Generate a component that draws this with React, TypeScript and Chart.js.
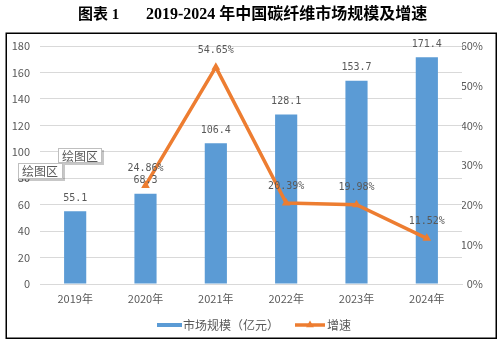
import React, { useEffect, useRef } from 'react';
import { Chart, registerables } from 'chart.js';

Chart.register(...registerables);

const categories = ['2019年', '2020年', '2021年', '2022年', '2023年', '2024年'];
const marketSize = [55.1, 68.3, 106.4, 128.1, 153.7, 171.4];
const growthRate: (number | null)[] = [null, 24.86, 54.65, 20.39, 19.98, 11.52];
const seriesNames = ['市场规模（亿元）', '增速'];
const titleParts = ['图表 1', '2019-2024 年中国碳纤维市场规模及增速'];
const popupText = '绘图区';

const BLUE = '#5B9BD5';
const ORANGE = '#ED7D31';
const TEXT = '#595959';
const GRID = '#D9D9D9';
const TICK_FONT = { family: '"Noto Sans CJK SC", "Noto Sans", sans-serif', size: 11 };

function drawTriangle(ctx: CanvasRenderingContext2D, x: number, y: number, r: number) {
  ctx.beginPath();
  ctx.moveTo(x, y - r);
  ctx.lineTo(x + r * 0.866, y + r * 0.5);
  ctx.lineTo(x - r * 0.866, y + r * 0.5);
  ctx.closePath();
  ctx.fill();
}

const decorPlugin = {
  id: 'decor',
  afterDatasetsDraw(chart: any) {
    const ctx: CanvasRenderingContext2D = chart.ctx;
    ctx.save();
    ctx.font = '10px "DejaVu Sans Mono", monospace';
    ctx.fillStyle = TEXT;
    ctx.textAlign = 'center';
    ctx.textBaseline = 'middle';
    const barMeta = chart.getDatasetMeta(0);
    barMeta.data.forEach((el: any, i: number) => {
      ctx.fillText(marketSize[i].toFixed(1), el.x, el.y - 13);
    });
    const lineMeta = chart.getDatasetMeta(1);
    lineMeta.data.forEach((el: any, i: number) => {
      const v = growthRate[i];
      if (v == null) return;
      ctx.fillText(v.toFixed(2) + '%', el.x, el.y - 17);
    });
    ctx.restore();
  },
  afterDraw(chart: any) {
    const ctx: CanvasRenderingContext2D = chart.ctx;
    ctx.save();
    // title
    ctx.fillStyle = '#000';
    ctx.font = 'bold 15px "Liberation Serif", "Noto Sans CJK SC", serif';
    ctx.textAlign = 'left';
    ctx.textBaseline = 'middle';
    ctx.fillText(titleParts[0], 78, 15);
    ctx.font = 'bold 16px "Liberation Serif", "Noto Sans CJK SC", serif';
    ctx.fillText(titleParts[1], 146, 15, 282);

    // border
    ctx.strokeStyle = '#000';
    ctx.lineWidth = 1.5;
    ctx.strokeRect(6.25, 33.25, 490, 305);

    // legend
    ctx.fillStyle = BLUE;
    ctx.fillRect(157, 323, 25, 4);
    ctx.fillStyle = TEXT;
    ctx.font = '12px "Noto Sans CJK SC", sans-serif';
    ctx.textBaseline = 'middle';
    ctx.fillText(seriesNames[0], 183, 325);
    ctx.strokeStyle = ORANGE;
    ctx.lineWidth = 3.5;
    ctx.beginPath();
    ctx.moveTo(295, 325);
    ctx.lineTo(325, 325);
    ctx.stroke();
    ctx.fillStyle = ORANGE;
    drawTriangle(ctx, 310, 325, 4.5);
    ctx.fillStyle = TEXT;
    ctx.fillText(seriesNames[1], 327, 325);

    // popup boxes
    const box = (x: number, y: number, w: number, h: number) => {
      ctx.fillStyle = 'rgba(0,0,0,0.22)';
      ctx.fillRect(x + 2, y + 2, w, h);
      ctx.fillStyle = '#fff';
      ctx.fillRect(x, y, w, h);
      ctx.strokeStyle = '#BFBFBF';
      ctx.lineWidth = 1;
      ctx.strokeRect(x + 0.5, y + 0.5, w - 1, h - 1);
      ctx.fillStyle = TEXT;
      ctx.font = '12px "Noto Sans CJK SC", sans-serif';
      ctx.textAlign = 'left';
      ctx.fillText(popupText, x + 4, y + h / 2 + 0.5);
    };
    box(58, 148, 44, 15);
    box(18, 163, 45, 16);
    ctx.restore();
  },
};

export default function App() {
  const ref = useRef<HTMLCanvasElement | null>(null);
  useEffect(() => {
    if (!ref.current) return;
    const chart = new Chart(ref.current, {
      type: 'bar',
      data: {
        labels: categories,
        datasets: [
          {
            type: 'bar',
            label: seriesNames[0],
            data: marketSize,
            backgroundColor: BLUE,
            borderWidth: 0,
            barPercentage: 0.315,
            categoryPercentage: 1,
            yAxisID: 'y',
            order: 1,
          },
          {
            type: 'line',
            label: seriesNames[1],
            data: growthRate,
            borderColor: ORANGE,
            backgroundColor: ORANGE,
            borderWidth: 3.5,
            pointStyle: 'triangle',
            pointRadius: 5,
            pointBorderWidth: 0,
            pointBackgroundColor: ORANGE,
            tension: 0,
            yAxisID: 'y1',
            order: 0,
          } as any,
        ],
      },
      options: {
        responsive: false,
        animation: false,
        devicePixelRatio: 1,
        layout: { padding: { top: 46, left: 0, right: 19, bottom: 0 } },
        plugins: { legend: { display: false }, tooltip: { enabled: false } },
        scales: {
          x: {
            grid: { display: false, drawTicks: false },
            border: { display: true, color: GRID, width: 1 },
            ticks: { color: TEXT, font: TICK_FONT, padding: 8, maxRotation: 0 },
            afterFit: (s: any) => { s.height = 61; },
          },
          y: {
            position: 'left',
            min: 0,
            max: 180,
            grid: { color: GRID, drawTicks: false },
            border: { display: false },
            ticks: { stepSize: 20, color: TEXT, font: TICK_FONT, padding: 10 },
            afterFit: (s: any) => { s.width = 40; },
          },
          y1: {
            position: 'right',
            min: 0,
            max: 60,
            grid: { display: false, drawTicks: false },
            border: { display: false },
            ticks: {
              stepSize: 10,
              color: TEXT,
              font: TICK_FONT,
              padding: 3,
              crossAlign: 'far',
              callback: (v: any) => v + '%',
            },
            afterFit: (s: any) => { s.width = 21; },
          },
        },
      },
      plugins: [decorPlugin],
    });
    return () => chart.destroy();
  }, []);
  return (
    <div style={{ position: 'fixed', left: 0, top: 0, width: 502, height: 345, background: '#fff' }}>
      <canvas ref={ref} width={502} height={345} style={{ width: 502, height: 345, display: 'block' }} />
    </div>
  );
}
